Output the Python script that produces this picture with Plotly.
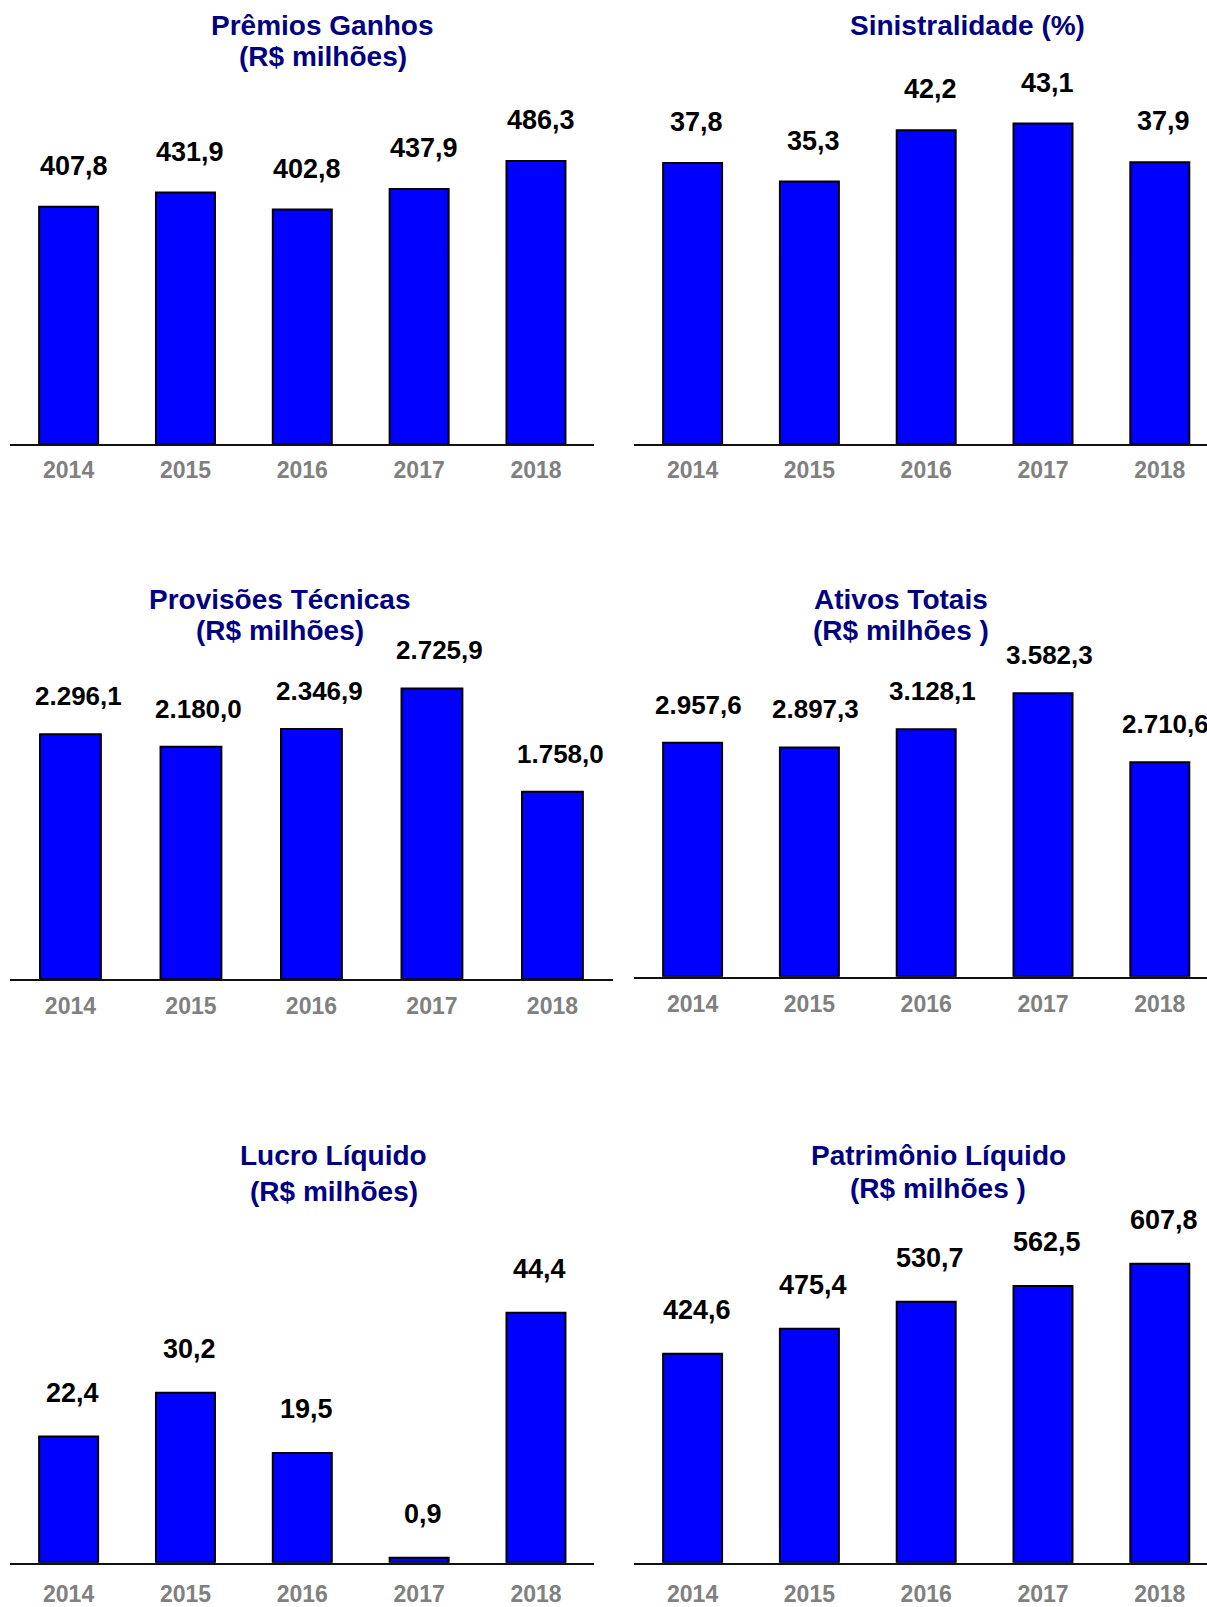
import plotly.graph_objects as go

# ---------------- data ----------------
years = ["2014", "2015", "2016", "2017", "2018"]
premios_ganhos = [407.8, 431.9, 402.8, 437.9, 486.3]
sinistralidade = [37.8, 35.3, 42.2, 43.1, 37.9]
provisoes_tecnicas = [2296.1, 2180.0, 2346.9, 2725.9, 1758.0]
ativos_totais = [2957.6, 2897.3, 3128.1, 3582.3, 2710.6]
lucro_liquido = [22.4, 30.2, 19.5, 0.9, 44.4]
patrimonio_liquido = [424.6, 475.4, 530.7, 562.5, 607.8]

titles_line1 = ["Prêmios Ganhos", "Sinistralidade (%)", "Provisões Técnicas",
                "Ativos Totais", "Lucro Líquido", "Patrimônio Líquido"]
titles_line2 = ["(R$ milhões)", "", "(R$ milhões)", "(R$ milhões )",
                "(R$ milhões)", "(R$ milhões )"]
series = [premios_ganhos, sinistralidade, provisoes_tecnicas,
          ativos_totais, lucro_liquido, patrimonio_liquido]

# ---------------- layout geometry (pixels) ----------------
W, H = 1207, 1607
FAM = "Liberation Sans, Arial, sans-serif"

right_range = [-0.5, -0.5 + (W - 634.2) / 116.8]
panels = [
    dict(x=[10.2, 594.4], xr=[-0.5, 4.5], base=448.5, top=80, k=0.588, ys=41, tl=5,
         xs=5, vf=27, yf=23, tx=322.7, t1=25.6, t2=57.4, tf=28),
    dict(x=[634.2, W], xr=right_range, base=448.5, top=80, k=7.51, ys=41, tl=5,
         xs=4, vf=27, yf=23, tx=967.7, t1=25.6, t2=57.4, tf=28),
    dict(x=[10.2, 612.7], xr=[-0.5, 4.5], base=989.0, top=640, k=0.1077, ys=38, tl=5,
         xs=8, vf=26, yf=23, tx=279.7, t1=605.4, t2=637.2, tf=28),
    dict(x=[634.2, W], xr=right_range, base=986.5, top=640, k=0.0799, ys=38, tl=6,
         xs=6, vf=26, yf=23, tx=901.0, t1=605.4, t2=637.2, tf=28),
    dict(x=[10.2, 594.4], xr=[-0.5, 4.5], base=1578.5, top=1200, k=5.69, ys=44, tl=10,
         xs=4, vf=27, yf=23, tx=333.5, t1=1167.3, t2=1203.7, tf=28),
    dict(x=[634.2, W], xr=right_range, base=1578.5, top=1200, k=0.497, ys=44, tl=10,
         xs=4, vf=27, yf=23, tx=938.0, t1=1167.3, t2=1200.6, tf=28),
]


def fmt(v):
    s = f"{v:,.1f}"
    return s.replace(",", "X").replace(".", ",").replace("X", ".")


fig = go.Figure()
annotations = []
for i, (vals, p) in enumerate(zip(series, panels)):
    n = "" if i == 0 else str(i + 1)
    xa, ya = "x" + n, "y" + n
    fig.add_trace(go.Bar(
        x=years, y=vals, xaxis=xa, yaxis=ya, width=0.505,
        marker=dict(color="#0000FF", line=dict(color="black", width=2)),
        hoverinfo="x+y", showlegend=False,
    ))
    fig.layout["xaxis" + n] = dict(
        domain=[p["x"][0] / W, p["x"][1] / W], range=p["xr"], anchor=ya,
        type="category", showline=True, linecolor="#111111", linewidth=1.5,
        ticks="outside", ticklen=p["tl"], tickcolor="rgba(0,0,0,0)",
        showgrid=False, zeroline=False, fixedrange=True,
        tickfont=dict(family=FAM, size=p["yf"], color="#808080", weight="bold"),
    )
    fig.layout["yaxis" + n] = dict(
        domain=[1 - p["base"] / H, 1 - p["top"] / H],
        range=[0, (p["base"] - p["top"]) / p["k"]], anchor=xa,
        visible=False, showgrid=False, zeroline=False, fixedrange=True,
    )
    for j, v in enumerate(vals):
        annotations.append(dict(
            x=j, y=v, xref=xa, yref=ya, text=fmt(v), showarrow=False,
            xanchor="center", yanchor="middle", yshift=p["ys"], xshift=p["xs"],
            font=dict(family=FAM, size=p["vf"], color="black", weight="bold"),
        ))
    annotations.append(dict(
        x=p["tx"] / W, y=1 - p["t1"] / H, xref="paper", yref="paper",
        text=titles_line1[i], showarrow=False, xanchor="center", yanchor="middle",
        font=dict(family=FAM, size=p["tf"], color="#000080", weight="bold"),
    ))
    if titles_line2[i]:
        annotations.append(dict(
            x=p["tx"] / W, y=1 - p["t2"] / H, xref="paper", yref="paper",
            text=titles_line2[i], showarrow=False, xanchor="center", yanchor="middle",
            font=dict(family=FAM, size=p["tf"], color="#000080", weight="bold"),
        ))

fig.update_layout(
    width=W, height=H, autosize=False,
    margin=dict(l=0, r=0, t=0, b=0, pad=0),
    paper_bgcolor="white", plot_bgcolor="white",
    annotations=annotations,
)

fig.write_html(
    "out.html",
    config={"displayModeBar": False},
    post_script=("document.documentElement.style.margin='0';"
                 "document.body.style.margin='0';"
                 "document.documentElement.style.overflow='hidden';"
                 "document.body.style.overflow='hidden';"),
)
